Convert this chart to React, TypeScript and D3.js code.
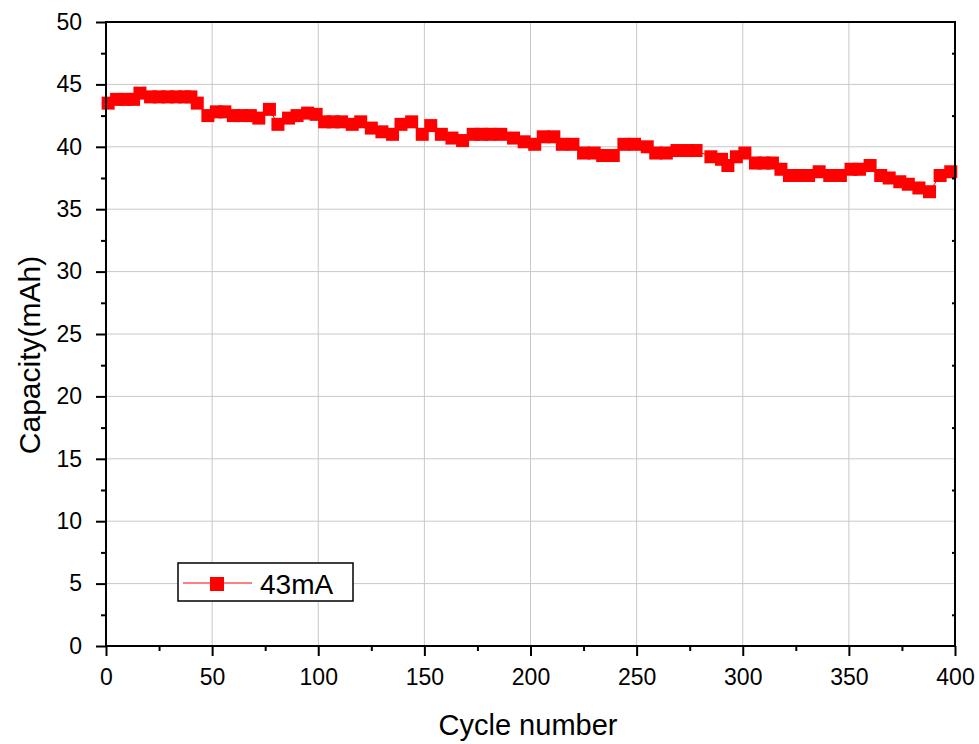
import React, { useRef, useEffect } from 'react';
import * as d3 from 'd3';

// cycle numbers and capacity (mAh)
const cycles = [
    1, 5, 9, 13, 16, 21, 25, 29, 33, 37, 40, 43, 48, 52, 56, 60, 64, 68, 72, 77,
    81, 86, 90, 95, 99, 103, 107, 111, 116, 120, 125, 130, 135, 139, 144, 149, 153, 158, 163, 168,
    173, 177, 181, 186, 192, 197, 202, 206, 211, 215, 220, 225, 230, 234, 239, 244, 249, 255, 259, 264,
    269, 274, 278, 285, 290, 293, 297, 301, 306, 310, 314, 318, 322, 326, 331, 336, 341, 346, 351, 355,
    360, 365, 369, 374, 378, 383, 388, 393, 398,
];
const capacity = [
    43.5, 43.8, 43.8, 43.8, 44.3, 44.0, 44.0, 44.0, 44.0, 44.0, 44.0, 43.5, 42.5, 42.8, 42.8, 42.5, 42.5, 42.5, 42.3, 43.0,
    41.8, 42.3, 42.5, 42.7, 42.6, 42.0, 42.0, 42.0, 41.8, 42.0, 41.5, 41.2, 41.0, 41.8, 42.0, 41.0, 41.7, 41.0, 40.7, 40.5,
    41.0, 41.0, 41.0, 41.0, 40.7, 40.4, 40.2, 40.8, 40.8, 40.2, 40.2, 39.5, 39.5, 39.3, 39.3, 40.2, 40.2, 40.0, 39.5, 39.5,
    39.7, 39.7, 39.7, 39.2, 39.0, 38.5, 39.2, 39.5, 38.7, 38.7, 38.7, 38.2, 37.7, 37.7, 37.7, 38.0, 37.7, 37.7, 38.2, 38.2,
    38.5, 37.7, 37.5, 37.2, 37.0, 36.7, 36.4, 37.7, 38.0,
];
const xTicks = [0, 50, 100, 150, 200, 250, 300, 350, 400];
const yTicks = [0, 5, 10, 15, 20, 25, 30, 35, 40, 45, 50];
const xMinor = [25, 75, 125, 175, 225, 275, 325, 375];
const yMinor = [2.5, 7.5, 12.5, 17.5, 22.5, 27.5, 32.5, 37.5, 42.5, 47.5];
const seriesName = '43mA';

const FONT = '"Liberation Sans", Arial, sans-serif';

function App() {
    const svgRef = useRef<SVGSVGElement | null>(null);

    useEffect(() => {
        const width = 979;
        const height = 744;
        const left = 106, right = 955, top = 22, bottom = 646;

        const svg = d3.select(svgRef.current);
        svg.selectAll('*').remove();
        svg.attr('width', width).attr('height', height);

        const x = d3.scaleLinear().domain([0, 400]).range([left, right]);
        const y = d3.scaleLinear().domain([0, 50]).range([bottom, top]);

        // grid
        const grid = svg.append('g').attr('stroke', '#c8c8c8').attr('stroke-width', 1);
        grid.selectAll('.gx').data(xTicks.slice(1, -1)).join('line')
            .attr('x1', d => x(d)).attr('x2', d => x(d)).attr('y1', top).attr('y2', bottom);
        grid.selectAll('.gy').data(yTicks.slice(1, -1)).join('line')
            .attr('x1', left).attr('x2', right).attr('y1', d => y(d)).attr('y2', d => y(d));

        // data
        const pts = cycles.map((c, i) => ({ c, v: capacity[i] }));
        svg.append('path')
            .datum(pts)
            .attr('fill', 'none')
            .attr('stroke', '#ff0000')
            .attr('stroke-width', 1)
            .attr('d', d3.line<{ c: number; v: number }>().x(d => x(d.c)).y(d => y(d.v)));
        const s = 13;
        svg.append('g').attr('fill', '#ff0000')
            .selectAll('rect').data(pts).join('rect')
            .attr('x', d => x(d.c) - s / 2).attr('y', d => y(d.v) - s / 2)
            .attr('width', s).attr('height', s);

        // axes
        const styleAxis = (g: d3.Selection<SVGGElement, unknown, null, undefined>) => {
            g.selectAll('.domain').remove();
            g.selectAll('line').attr('stroke', '#000').attr('stroke-width', 2);
            g.selectAll('text').attr('font-family', FONT).attr('font-size', 23).attr('fill', '#000');
        };

        svg.append('g').attr('transform', `translate(0,${bottom})`)
            .call(d3.axisBottom(x).tickValues(xTicks).tickSize(10).tickPadding(13).tickFormat(d3.format('d')))
            .call(styleAxis);
        svg.append('g').attr('transform', `translate(0,${bottom})`)
            .call(d3.axisBottom(x).tickValues(xMinor).tickSize(5).tickFormat(() => ''))
            .call(styleAxis);
        svg.append('g').attr('transform', `translate(${left},0)`)
            .call(d3.axisLeft(y).tickValues(yTicks).tickSize(10).tickPadding(14).tickFormat(d3.format('d')))
            .call(styleAxis);
        svg.append('g').attr('transform', `translate(${left},0)`)
            .call(d3.axisLeft(y).tickValues(yMinor).tickSize(5).tickFormat(() => ''))
            .call(styleAxis);
        svg.append('g').attr('transform', `translate(${right},0)`)
            .call(d3.axisLeft(y).tickValues(yMinor).tickSize(3).tickFormat(() => ''))
            .call(g => g.selectAll('line').attr('transform', 'translate(0,0)'))
            .call(styleAxis);
        svg.selectAll('.tick text').attr('font-size', 23);

        // frame
        svg.append('rect')
            .attr('x', left).attr('y', top)
            .attr('width', right - left).attr('height', bottom - top)
            .attr('fill', 'none').attr('stroke', '#000').attr('stroke-width', 2);

        // axis titles
        svg.append('text')
            .attr('x', 528).attr('y', 735)
            .attr('text-anchor', 'middle')
            .attr('font-family', FONT).attr('font-size', 29)
            .text('Cycle number');
        svg.append('text')
            .attr('transform', 'translate(40,355) rotate(-90)')
            .attr('text-anchor', 'middle')
            .attr('font-family', FONT).attr('font-size', 30)
            .text('Capacity(mAh)');

        // legend
        const lg = svg.append('g');
        lg.append('rect')
            .attr('x', 178).attr('y', 563).attr('width', 175).attr('height', 38)
            .attr('fill', '#fff').attr('stroke', '#000').attr('stroke-width', 1.5);
        lg.append('line')
            .attr('x1', 183).attr('x2', 252).attr('y1', 583).attr('y2', 583)
            .attr('stroke', '#ff0000').attr('stroke-width', 1);
        lg.append('rect')
            .attr('x', 210).attr('y', 577).attr('width', 14).attr('height', 14)
            .attr('fill', '#ff0000');
        lg.append('text')
            .attr('x', 260).attr('y', 594)
            .attr('font-family', FONT).attr('font-size', 28)
            .text(seriesName);
    }, []);

    return (
        <div style={{ position: 'absolute', left: 0, top: 0 }}>
            <svg ref={svgRef}></svg>
        </div>
    );
}

export default App;
